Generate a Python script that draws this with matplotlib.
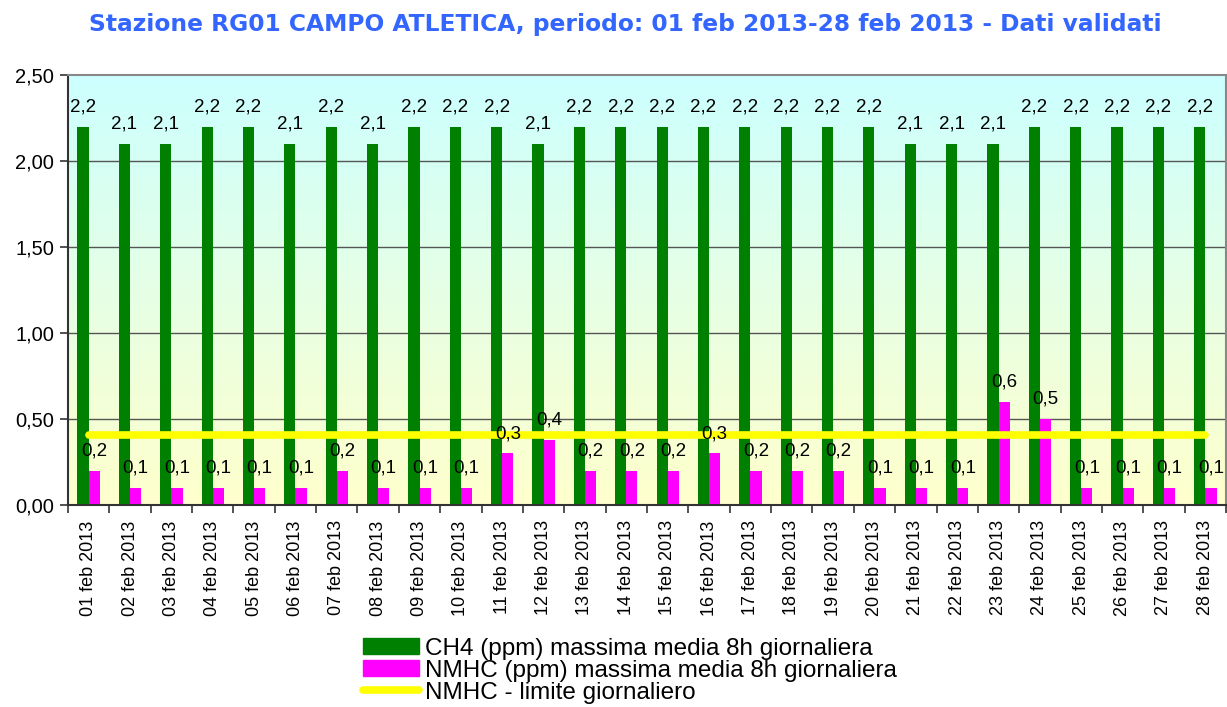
import matplotlib.pyplot as plt
import numpy as np
from matplotlib.colors import LinearSegmentedColormap
from matplotlib.lines import Line2D
from matplotlib.patches import Patch

# daily values, 01-28 feb 2013
days = ['%02d feb 2013' % d for d in range(1, 29)]
ch4 = [2.2, 2.1, 2.1, 2.2, 2.2, 2.1, 2.2, 2.1, 2.2, 2.2, 2.2, 2.1, 2.2, 2.2,
       2.2, 2.2, 2.2, 2.2, 2.2, 2.2, 2.1, 2.1, 2.1, 2.2, 2.2, 2.2, 2.2, 2.2]
nmhc = [0.2, 0.1, 0.1, 0.1, 0.1, 0.1, 0.2, 0.1, 0.1, 0.1, 0.3, 0.38, 0.2, 0.2,
        0.2, 0.3, 0.2, 0.2, 0.2, 0.1, 0.1, 0.1, 0.6, 0.5, 0.1, 0.1, 0.1, 0.1]
limite = [0.41] * 28

yticks = [0.0, 0.5, 1.0, 1.5, 2.0, 2.5]

plt.rcParams['font.family'] = ['Liberation Sans', 'DejaVu Sans']

fig = plt.figure(figsize=(12.27, 7.07), dpi=100)
ax = fig.add_axes([0.0554, 0.2857, 0.9438, 0.608])

x = np.arange(len(days))
w = 0.27

# background gradient, cyan on top to pale yellow at the bottom
cmap = LinearSegmentedColormap.from_list('bg', ['#FFFFCC', '#CCFFFF'])
grad = np.linspace(0, 1, 256).reshape(-1, 1)
ax.imshow(grad, cmap=cmap, aspect='auto', origin='lower',
          extent=[-0.5, len(days) - 0.5, 0, 2.5], zorder=0)

for yv in yticks[1:-1]:
    ax.axhline(yv, color='#555555', lw=1.0, zorder=1)

ax.bar(x - w / 2, ch4, width=w, color='#008000', zorder=2)
ax.bar(x + w / 2, nmhc, width=w, color='#FF00FF', zorder=2)
ax.plot(x, limite, color='#FFFF00', lw=5.5, solid_capstyle='round', zorder=3)

for i in range(len(days)):
    ax.annotate(('%.1f' % ch4[i]).replace('.', ','), (x[i] - w / 2, ch4[i]),
                xytext=(0, 11), textcoords='offset points', ha='center',
                va='baseline', fontsize=13.5, zorder=5)
    ax.annotate(('%.1f' % nmhc[i]).replace('.', ','), (x[i] + w / 2, nmhc[i]),
                xytext=(0, 11), textcoords='offset points', ha='center',
                va='baseline', fontsize=13.5, zorder=5)

ax.set_xlim(-0.5, len(days) - 0.5)
ax.set_ylim(0, 2.5)
ax.set_yticks(yticks)
ax.set_yticklabels([('%.2f' % v).replace('.', ',') for v in yticks], fontsize=14.5)
ax.set_xticks(x)
ax.set_xticklabels(days, rotation=90, fontsize=13)
ax.set_xticks(np.arange(-0.5, len(days)), minor=True)
ax.tick_params(axis='x', which='major', length=0, pad=11)
ax.tick_params(axis='x', which='minor', length=6, width=1.2, color='#333333')
ax.tick_params(axis='y', length=6, width=1.2, color='#333333', pad=4)

for s in ['left', 'bottom']:
    ax.spines[s].set_color('#333333')
    ax.spines[s].set_linewidth(1.5)
for s in ['top', 'right']:
    ax.spines[s].set_color('#888888')
    ax.spines[s].set_linewidth(1.5)

fig.text(0.51, 0.966, 'Stazione RG01 CAMPO ATLETICA, periodo: 01 feb 2013-28 feb 2013 - Dati validati',
         ha='center', va='center', color='#3366FF', fontsize=16.8, fontweight='bold',
         family='DejaVu Sans')

handles = [Patch(color='#008000'), Patch(color='#FF00FF'),
           Line2D([0], [0], color='#FFFF00', lw=5.5, solid_capstyle='round')]
labels = ['CH4 (ppm) massima media 8h giornaliera',
          'NMHC (ppm) massima media 8h giornaliera',
          'NMHC - limite giornaliero']
fig.legend(handles, labels, loc='upper left', bbox_to_anchor=(0.288, 0.112),
           frameon=False, fontsize=17.5, labelspacing=0.0, handlelength=2.3,
           handletextpad=0.25, handleheight=0.6, borderaxespad=0)

fig.savefig('out.png', dpi=100)
